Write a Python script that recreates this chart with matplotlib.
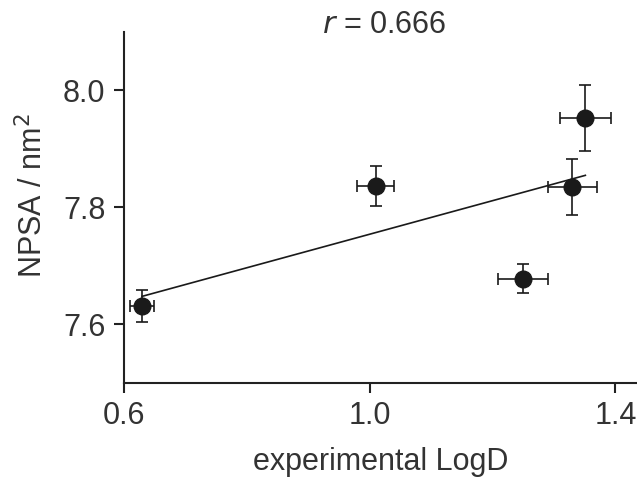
import numpy as np
import matplotlib.pyplot as plt

plt.rcParams['font.family'] = ['Liberation Sans', 'DejaVu Sans']

# experimental LogD vs NPSA
logd = [0.630, 1.010, 1.250, 1.330, 1.351]
logd_err = [0.020, 0.030, 0.041, 0.040, 0.041]
npsa = [7.631, 7.837, 7.678, 7.835, 7.953]
npsa_err = [0.027, 0.034, 0.025, 0.048, 0.056]
r_label = '0.666'

x_ticks = [0.6, 1.0, 1.4]
y_ticks = [7.6, 7.8, 8.0]

text_color = '#333333'
fig = plt.figure(figsize=(6.37, 4.92), dpi=100)
ax = fig.add_axes([0.194, 0.222, 0.806, 0.713])

# linear fit
slope, intercept = np.polyfit(logd, npsa, 1)
xs = np.array([min(logd), max(logd)])
ax.plot(xs, slope * xs + intercept, color='#1a1a1a', lw=1.2, zorder=2)

ax.errorbar(logd, npsa, xerr=logd_err, yerr=npsa_err, fmt='o', color='#1a1a1a',
            ms=12, elinewidth=1.2, capsize=4.5, capthick=1.2, zorder=3)

ax.set_xlim(0.6, 1.435)
ax.set_ylim(7.5, 8.1)
ax.set_xticks(x_ticks)
ax.set_xticklabels([f'{v:.1f}' for v in x_ticks])
ax.set_yticks(y_ticks)
ax.set_yticklabels([f'{v:.1f}' for v in y_ticks])

for side in ['top', 'right']:
    ax.spines[side].set_visible(False)
for side in ['left', 'bottom']:
    ax.spines[side].set_linewidth(1.5)
    ax.spines[side].set_color('#222222')
ax.tick_params(length=7, width=1.5, color='#222222', labelsize=22,
               labelcolor=text_color, pad=6)

ax.set_xlabel('experimental LogD', fontsize=22, color=text_color, labelpad=12)
ax.set_ylabel('NPSA / nm$^2$', fontsize=22, color=text_color)
ax.yaxis.set_label_coords(-0.145, 0.533)
fig.text(384 / 637, 1 - 33 / 492, f'$r$ = {r_label}', fontsize=22, color=text_color,
         ha='center', va='baseline')

fig.savefig('out.png', dpi=100)
